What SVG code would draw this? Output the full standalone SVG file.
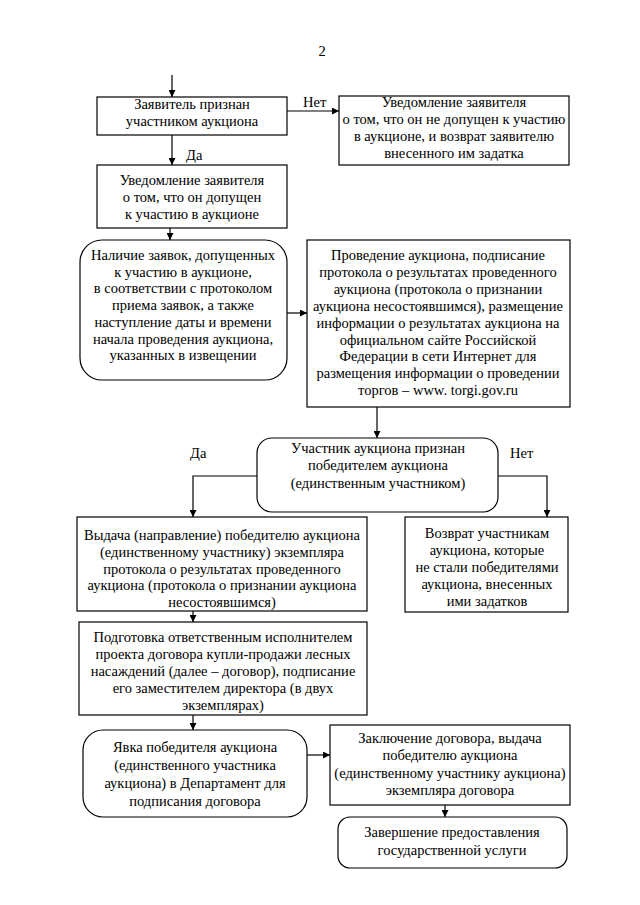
<svg xmlns="http://www.w3.org/2000/svg" width="640" height="905" viewBox="0 0 640 905">
<style>
.b{fill:#fff;stroke:#000;stroke-width:1.2}
.t{font-family:"Liberation Serif","Times New Roman",serif;font-size:14.5px;fill:#000;text-anchor:middle}
.l{font-family:"Liberation Serif","Times New Roman",serif;font-size:14.5px;fill:#000}
.c{fill:none;stroke:#000;stroke-width:1.2}
</style>
<defs>
<marker id="a" viewBox="0 0 10 10" refX="10" refY="5" markerWidth="7" markerHeight="7" markerUnits="userSpaceOnUse" orient="auto">
<path d="M0,0 L10,5 L0,10 z" fill="#000"/>
</marker>
</defs>
<rect width="640" height="905" fill="#fff"/>
<text class="t" x="322" y="56">2</text>
<g id="connectors">
<path class="c" d="M172,75 V97" marker-end="url(#a)"/>
<path class="c" d="M287,111 H339" marker-end="url(#a)"/>
<path class="c" d="M172,135 V165" marker-end="url(#a)"/>
<path class="c" d="M170,228 V240" marker-end="url(#a)"/>
<path class="c" d="M287,313 H307" marker-end="url(#a)"/>
<path class="c" d="M377,407 V438" marker-end="url(#a)"/>
<path class="c" d="M257,476 H193 V517" marker-end="url(#a)"/>
<path class="c" d="M498,476 H547 V517" marker-end="url(#a)"/>
<path class="c" d="M193,611 V622" marker-end="url(#a)"/>
<path class="c" d="M193,715 V730" marker-end="url(#a)"/>
<path class="c" d="M307,755 H330" marker-end="url(#a)"/>
<path class="c" d="M445,805 V817" marker-end="url(#a)"/>
<text class="l" x="303" y="107">Нет</text>
<text class="l" x="186" y="160">Да</text>
<text class="l" x="190" y="458">Да</text>
<text class="l" x="510" y="458">Нет</text>
</g>
<g id="n1">
<rect class="b" x="97" y="97" width="190" height="38"/>
<text class="t" x="192" y="109">Заявитель признан</text>
<text class="t" x="192" y="126">участником аукциона</text>
</g>
<g id="n2">
<rect class="b" x="339" y="96" width="230" height="69"/>
<text class="t" x="454" y="107">Уведомление заявителя</text>
<text class="t" x="454" y="124">о том, что он не допущен к участию</text>
<text class="t" x="454" y="141">в аукционе, и возврат заявителю</text>
<text class="t" x="454" y="158">внесенного им задатка</text>
</g>
<g id="n3">
<rect class="b" x="97" y="165" width="190" height="63"/>
<text class="t" x="192" y="185">Уведомление заявителя</text>
<text class="t" x="192" y="202">о том, что он допущен</text>
<text class="t" x="192" y="219">к участию в аукционе</text>
</g>
<g id="n4">
<rect class="b" x="80" y="240" width="207" height="140" rx="22"/>
<text class="t" x="183" y="260">Наличие заявок, допущенных</text>
<text class="t" x="183" y="276.7">к участию в аукционе,</text>
<text class="t" x="183" y="293.4">в соответствии с протоколом</text>
<text class="t" x="183" y="310.1">приема заявок, а также</text>
<text class="t" x="183" y="326.8">наступление даты и времени</text>
<text class="t" x="183" y="343.5">начала проведения аукциона,</text>
<text class="t" x="183" y="360.2">указанных в извещении</text>
</g>
<g id="n5">
<rect class="b" x="307" y="240" width="263" height="167"/>
<text class="t" x="438" y="260">Проведение аукциона, подписание</text>
<text class="t" x="438" y="276.9">протокола о результатах проведенного</text>
<text class="t" x="438" y="293.8">аукциона (протокола о признании</text>
<text class="t" x="438" y="310.7">аукциона несостоявшимся), размещение</text>
<text class="t" x="438" y="327.6">информации о результатах аукциона на</text>
<text class="t" x="438" y="344.5">официальном сайте Российской</text>
<text class="t" x="438" y="361.4">Федерации в сети Интернет для</text>
<text class="t" x="438" y="378.3">размещения информации о проведении</text>
<text class="t" x="438" y="395.2">торгов – www. torgi.gov.ru</text>
</g>
<g id="n6">
<rect class="b" x="257" y="438" width="241" height="74" rx="15"/>
<text class="t" x="378" y="453">Участник аукциона признан</text>
<text class="t" x="378" y="470">победителем аукциона</text>
<text class="t" x="378" y="488">(единственным участником)</text>
</g>
<g id="n7">
<rect class="b" x="77" y="517" width="290" height="94"/>
<text class="t" x="222" y="540">Выдача (направление) победителю аукциона</text>
<text class="t" x="222" y="556.8">(единственному участнику) экземпляра</text>
<text class="t" x="222" y="573.6">протокола о результатах проведенного</text>
<text class="t" x="222" y="590.4">аукциона (протокола о признании аукциона</text>
<text class="t" x="222" y="607.2">несостоявшимся)</text>
</g>
<g id="n8">
<rect class="b" x="405" y="517" width="163" height="95"/>
<text class="t" x="487" y="538">Возврат участникам</text>
<text class="t" x="487" y="555">аукциона, которые</text>
<text class="t" x="487" y="572">не стали победителями</text>
<text class="t" x="487" y="589">аукциона, внесенных</text>
<text class="t" x="487" y="606">ими задатков</text>
</g>
<g id="n9">
<rect class="b" x="79" y="622" width="288" height="93"/>
<text class="t" x="223" y="642">Подготовка ответственным исполнителем</text>
<text class="t" x="223" y="659">проекта договора купли-продажи лесных</text>
<text class="t" x="223" y="676">насаждений (далее – договор), подписание</text>
<text class="t" x="223" y="693">его заместителем директора (в двух</text>
<text class="t" x="223" y="710">экземплярах)</text>
</g>
<g id="n10">
<rect class="b" x="83" y="730" width="224" height="87" rx="20"/>
<text class="t" x="195" y="752">Явка победителя аукциона</text>
<text class="t" x="195" y="770">(единственного участника</text>
<text class="t" x="195" y="788">аукциона) в Департамент для</text>
<text class="t" x="195" y="806">подписания договора</text>
</g>
<g id="n11">
<rect class="b" x="330" y="725" width="240" height="80"/>
<text class="t" x="450" y="743">Заключение договора, выдача</text>
<text class="t" x="450" y="760">победителю аукциона</text>
<text class="t" x="450" y="778">(единственному участнику аукциона)</text>
<text class="t" x="450" y="795">экземпляра договора</text>
</g>
<g id="n12">
<rect class="b" x="338" y="817" width="229" height="51" rx="12"/>
<text class="t" x="452" y="837">Завершение предоставления</text>
<text class="t" x="452" y="855">государственной услуги</text>
</g>
</svg>
